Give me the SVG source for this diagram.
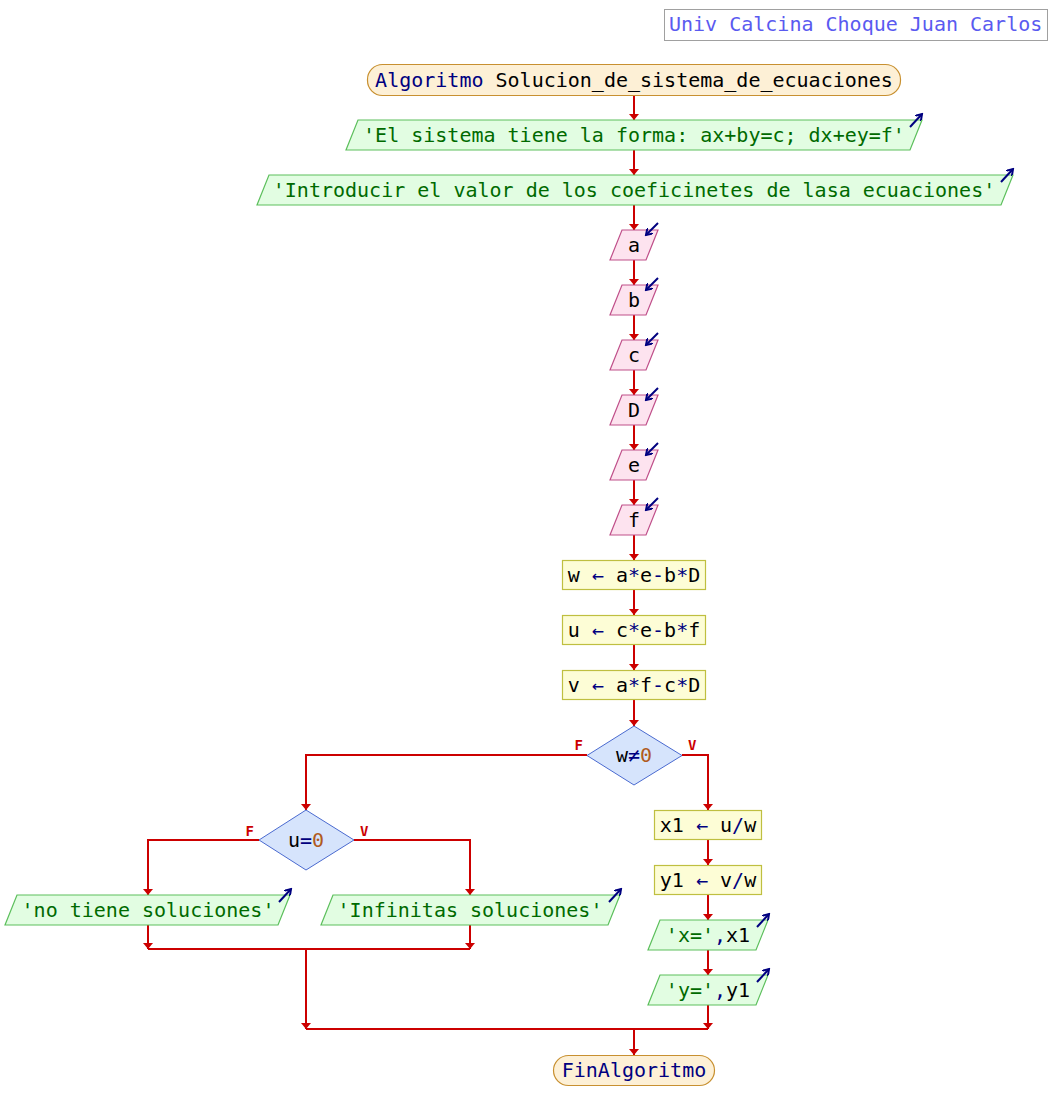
<svg xmlns="http://www.w3.org/2000/svg" width="1058" height="1120" viewBox="0 0 1058 1120">
  <style>
    text { font-family: "DejaVu Sans Mono", "Liberation Mono", monospace; font-size: 20px; }
    .c { text-anchor: middle; }
    .term { fill: #fdf0d6; stroke: #c89030; stroke-width: 1.2; }
    .out { fill: #e2fde2; stroke: #5cbf5c; stroke-width: 1.2; }
    .inp { fill: #fde3ef; stroke: #c0508a; stroke-width: 1.2; }
    .asg { fill: #fdfdd6; stroke: #bfbf40; stroke-width: 1.2; }
    .dec { fill: #d6e4fc; stroke: #4a6ad0; stroke-width: 1; }
    .kw { fill: #000080; }
    .op { fill: #000080; }
    .str { fill: #006a00; }
    .num { fill: #b05a20; }
    .id { fill: #000000; }
    .lbl { font-size: 14px; font-weight: bold; fill: #cc0000; }
    .wire { fill: none; stroke: #cc0000; stroke-width: 2; }
    .ico { fill: none; stroke: #000080; stroke-width: 2; }
  </style>
  <defs>
    <!-- small open head for the input/output corner icons -->
    <marker id="head" markerUnits="userSpaceOnUse" markerWidth="8" markerHeight="8" refX="6" refY="4" orient="auto" viewBox="0 0 8 8">
      <path d="M0,0 L6,4 L0,8" fill="none" stroke="#000080" stroke-width="2"/>
    </marker>
  </defs>

  <!-- author tag -->
  <g id="author">
    <rect x="664.5" y="9.5" width="383" height="31" fill="#ffffff" stroke="#a0a0a0" stroke-width="1"/>
    <text x="669" y="31" fill="#5a5af0">Univ Calcina Choque Juan Carlos</text>
  </g>

  <!-- connectors -->
  <g id="connectors">
    <g class="wire">
      <path d="M634,95 V120"/>
      <path d="M634,150 V175"/>
      <path d="M634,205 V230"/>
      <path d="M634,260 V285"/>
      <path d="M634,315 V340"/>
      <path d="M634,370 V395"/>
      <path d="M634,425 V450"/>
      <path d="M634,480 V505"/>
      <path d="M634,535 V560"/>
      <path d="M634,590 V615"/>
      <path d="M634,645 V670"/>
      <path d="M634,700 V726"/>
      <!-- w≠0 true branch -->
      <path d="M682,755 H708 V810"/>
      <path d="M708,840 V865"/>
      <path d="M708,895 V920"/>
      <path d="M708,950 V975"/>
      <path d="M708,1005 V1029"/>
      <!-- w≠0 false branch -->
      <path d="M587,755 H306 V810"/>
      <path d="M259,840 H148 V895"/>
      <path d="M354,840 H470 V895"/>
      <path d="M148,925 V949"/>
      <path d="M470,925 V949"/>
      <path d="M148,949 H470"/>
      <path d="M306,949 V1029"/>
      <path d="M306,1029 H708"/>
      <path d="M634,1029 V1055"/>
    </g>
    <!-- arrowheads -->
    <g fill="#cc0000">
      <path d="M629,114 h10 l-5,6 z"/>
      <path d="M629,169 h10 l-5,6 z"/>
      <path d="M629,224 h10 l-5,6 z"/>
      <path d="M629,279 h10 l-5,6 z"/>
      <path d="M629,334 h10 l-5,6 z"/>
      <path d="M629,389 h10 l-5,6 z"/>
      <path d="M629,444 h10 l-5,6 z"/>
      <path d="M629,499 h10 l-5,6 z"/>
      <path d="M629,554 h10 l-5,6 z"/>
      <path d="M629,609 h10 l-5,6 z"/>
      <path d="M629,664 h10 l-5,6 z"/>
      <path d="M629,720 h10 l-5,6 z"/>
      <path d="M703,804 h10 l-5,6 z"/>
      <path d="M703,859 h10 l-5,6 z"/>
      <path d="M703,914 h10 l-5,6 z"/>
      <path d="M703,969 h10 l-5,6 z"/>
      <path d="M703,1023 h10 l-5,6 z"/>
      <path d="M301,804 h10 l-5,6 z"/>
      <path d="M143,889 h10 l-5,6 z"/>
      <path d="M465,889 h10 l-5,6 z"/>
      <path d="M143,943 h10 l-5,6 z"/>
      <path d="M465,943 h10 l-5,6 z"/>
      <path d="M301,1023 h10 l-5,6 z"/>
      <path d="M629,1049 h10 l-5,6 z"/>
    </g>
    <text class="lbl" x="583" y="750" text-anchor="end">F</text>
    <text class="lbl" x="688" y="750">V</text>
    <text class="lbl" x="254" y="836" text-anchor="end">F</text>
    <text class="lbl" x="360" y="836">V</text>
  </g>

  <!-- start -->
  <g id="start">
    <rect class="term" x="367.5" y="64.5" width="533" height="31" rx="15"/>
    <text class="c" x="634" y="87"><tspan class="kw">Algoritmo</tspan><tspan class="id"> Solucion_de_sistema_de_ecuaciones</tspan></text>
  </g>

  <!-- outputs -->
  <g id="out_forma">
    <polygon class="out" points="358,120 922,120 910,150 346,150"/>
    <text class="c str" x="634" y="142">'El sistema tiene la forma: ax+by=c; dx+ey=f'</text>
    <path class="ico" d="M910,127 L922,114" marker-end="url(#head)"/>
  </g>
  <g id="out_intro">
    <polygon class="out" points="269,175 1013,175 1001,205 257,205"/>
    <text class="c str" x="634" y="197">'Introducir el valor de los coeficinetes de lasa ecuaciones'</text>
    <path class="ico" d="M1001,182 L1013,169" marker-end="url(#head)"/>
  </g>

  <!-- inputs -->
  <g id="in_a">
    <polygon class="inp" points="622,230 658,230 646,260 610,260"/>
    <text class="c id" x="634" y="252">a</text>
    <path class="ico" d="M658,223 L646,235" marker-end="url(#head)"/>
  </g>
  <g id="in_b">
    <polygon class="inp" points="622,285 658,285 646,315 610,315"/>
    <text class="c id" x="634" y="307">b</text>
    <path class="ico" d="M658,278 L646,290" marker-end="url(#head)"/>
  </g>
  <g id="in_c">
    <polygon class="inp" points="622,340 658,340 646,370 610,370"/>
    <text class="c id" x="634" y="362">c</text>
    <path class="ico" d="M658,333 L646,345" marker-end="url(#head)"/>
  </g>
  <g id="in_D">
    <polygon class="inp" points="622,395 658,395 646,425 610,425"/>
    <text class="c id" x="634" y="417">D</text>
    <path class="ico" d="M658,388 L646,400" marker-end="url(#head)"/>
  </g>
  <g id="in_e">
    <polygon class="inp" points="622,450 658,450 646,480 610,480"/>
    <text class="c id" x="634" y="472">e</text>
    <path class="ico" d="M658,443 L646,455" marker-end="url(#head)"/>
  </g>
  <g id="in_f">
    <polygon class="inp" points="622,505 658,505 646,535 610,535"/>
    <text class="c id" x="634" y="527">f</text>
    <path class="ico" d="M658,498 L646,510" marker-end="url(#head)"/>
  </g>

  <!-- assignments -->
  <g id="asg_w">
    <rect class="asg" x="562.5" y="560.5" width="143" height="29"/>
    <text class="c" x="634" y="582"><tspan class="id">w </tspan><tspan class="op">←</tspan><tspan class="id"> a</tspan><tspan class="op">*</tspan><tspan class="id">e</tspan><tspan class="op">-</tspan><tspan class="id">b</tspan><tspan class="op">*</tspan><tspan class="id">D</tspan></text>
  </g>
  <g id="asg_u">
    <rect class="asg" x="562.5" y="615.5" width="143" height="29"/>
    <text class="c" x="634" y="637"><tspan class="id">u </tspan><tspan class="op">←</tspan><tspan class="id"> c</tspan><tspan class="op">*</tspan><tspan class="id">e</tspan><tspan class="op">-</tspan><tspan class="id">b</tspan><tspan class="op">*</tspan><tspan class="id">f</tspan></text>
  </g>
  <g id="asg_v">
    <rect class="asg" x="562.5" y="670.5" width="143" height="29"/>
    <text class="c" x="634" y="692"><tspan class="id">v </tspan><tspan class="op">←</tspan><tspan class="id"> a</tspan><tspan class="op">*</tspan><tspan class="id">f</tspan><tspan class="op">-</tspan><tspan class="id">c</tspan><tspan class="op">*</tspan><tspan class="id">D</tspan></text>
  </g>

  <!-- decision w≠0 -->
  <g id="dec_w">
    <polygon class="dec" points="634,726 682,755.5 634,785 587,755.5"/>
    <text class="c" x="634" y="762"><tspan class="id">w</tspan><tspan class="op">≠</tspan><tspan class="num">0</tspan></text>
  </g>

  <!-- true branch -->
  <g id="asg_x1">
    <rect class="asg" x="654.5" y="810.5" width="107" height="29"/>
    <text class="c" x="708" y="832"><tspan class="id">x1 </tspan><tspan class="op">←</tspan><tspan class="id"> u</tspan><tspan class="op">/</tspan><tspan class="id">w</tspan></text>
  </g>
  <g id="asg_y1">
    <rect class="asg" x="654.5" y="865.5" width="107" height="29"/>
    <text class="c" x="708" y="887"><tspan class="id">y1 </tspan><tspan class="op">←</tspan><tspan class="id"> v</tspan><tspan class="op">/</tspan><tspan class="id">w</tspan></text>
  </g>
  <g id="out_x">
    <polygon class="out" points="660,920 768,920 756,950 648,950"/>
    <text class="c" x="708" y="942"><tspan class="str">'x='</tspan><tspan class="op">,</tspan><tspan class="id">x1</tspan></text>
    <path class="ico" d="M757,927 L769,914" marker-end="url(#head)"/>
  </g>
  <g id="out_y">
    <polygon class="out" points="660,975 768,975 756,1005 648,1005"/>
    <text class="c" x="708" y="997"><tspan class="str">'y='</tspan><tspan class="op">,</tspan><tspan class="id">y1</tspan></text>
    <path class="ico" d="M757,982 L769,969" marker-end="url(#head)"/>
  </g>

  <!-- false branch -->
  <g id="dec_u">
    <polygon class="dec" points="306,810 354,840 306,870 259,840"/>
    <text class="c" x="306" y="847"><tspan class="id">u</tspan><tspan class="op">=</tspan><tspan class="num">0</tspan></text>
  </g>
  <g id="out_none">
    <polygon class="out" points="17,895 290,895 278,925 5,925"/>
    <text class="c str" x="148" y="917">'no tiene soluciones'</text>
    <path class="ico" d="M279,902 L291,889" marker-end="url(#head)"/>
  </g>
  <g id="out_inf">
    <polygon class="out" points="333,895 620,895 608,925 321,925"/>
    <text class="c str" x="470" y="917">'Infinitas soluciones'</text>
    <path class="ico" d="M609,902 L621,889" marker-end="url(#head)"/>
  </g>

  <!-- end -->
  <g id="end">
    <rect class="term" x="553.5" y="1055.5" width="161" height="30" rx="15"/>
    <text class="c kw" x="634" y="1077">FinAlgoritmo</text>
  </g>
</svg>
